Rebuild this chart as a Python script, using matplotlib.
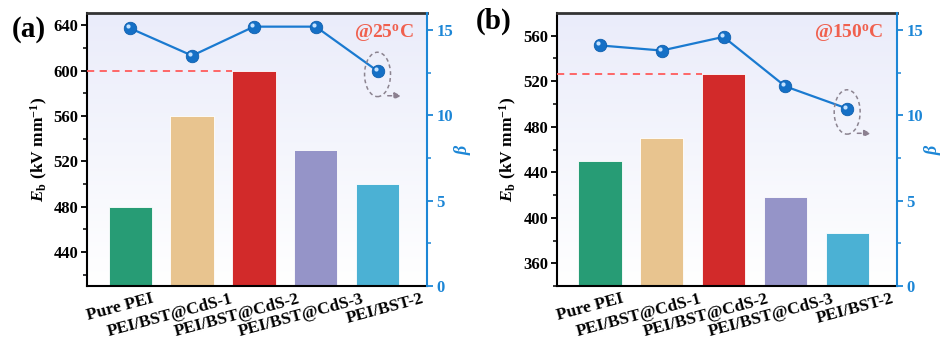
import numpy as np
import matplotlib
matplotlib.use('Agg')
import matplotlib.pyplot as plt
from matplotlib.patches import Ellipse
from matplotlib.colors import LinearSegmentedColormap
import matplotlib.transforms as mtransforms

plt.rcParams['font.family'] = ['Liberation Serif', 'DejaVu Serif']
plt.rcParams['font.weight'] = 'bold'
plt.rcParams['mathtext.fontset'] = 'custom'
plt.rcParams['mathtext.rm'] = 'Liberation Serif:bold'
plt.rcParams['mathtext.it'] = 'Liberation Serif:italic:bold'
plt.rcParams['mathtext.bf'] = 'Liberation Serif:bold'

# data
samples = ['Pure PEI', 'PEI/BST@CdS-1', 'PEI/BST@CdS-2', 'PEI/BST@CdS-3', 'PEI/BST-2']
eb_25 = [480, 560, 600, 530, 500]
beta_25 = [15.1, 13.5, 15.2, 15.2, 12.6]
eb_150 = [450, 470, 526, 418, 387]
beta_150 = [14.1, 13.8, 14.6, 11.7, 10.4]

bar_colors = ['#279c75', '#e8c48f', '#d22a2a', '#9594c8', '#4bb1d4']
blue = '#1c86d6'
line_blue = '#1a7ad0'

fig = plt.figure(figsize=(9.43, 3.42), dpi=100)
ax_a = fig.add_axes([0.0923, 0.1637, 0.3605, 0.7983])
ax_b = fig.add_axes([0.5903, 0.1637, 0.3605, 0.7983])

grad_cmap = LinearSegmentedColormap.from_list('bg', ['#ffffff', '#eaecfa'])
label_dx = [21, 38, 43, 46, 44]  # px shift of rotated tick labels


def panel(ax, eb, beta, ylim, yticks, letter, letter_xy, temp):
    x = np.arange(len(samples))
    grad = np.linspace(0, 1, 256).reshape(-1, 1)
    ax.imshow(grad, cmap=grad_cmap, origin='lower', aspect='auto',
              extent=[0, 1, 0, 1], transform=ax.transAxes, zorder=0)
    ax.bar(x, eb, width=0.7, color=bar_colors, edgecolor='white',
           linewidth=0.6, zorder=2)
    ax.set_xlim(-0.7, 4.8)
    ax.set_ylim(*ylim)
    ax.set_yticks(yticks)
    ax.set_yticks(np.arange(yticks[0] - 20, ylim[1], 40), minor=True)
    ax.hlines(eb[2], -0.7, 2 - 0.35, colors='#ff5c5c', linestyles=(0, (4, 3)),
              linewidth=1.3, zorder=3)
    ax.set_xticks(x)
    ax.set_xticklabels([])
    base = mtransforms.blended_transform_factory(ax.transData, ax.transAxes)
    for i, name in enumerate(samples):
        tr = base + mtransforms.ScaledTranslation(label_dx[i] / 100, -5 / 100,
                                                  fig.dpi_scale_trans)
        ax.text(i, 0, name, transform=tr, rotation=15, ha='right', va='top',
                rotation_mode='anchor', fontsize=12.5, fontweight='bold')
    ax.tick_params(axis='x', direction='in', length=5, width=1.3)
    ax.tick_params(axis='y', which='major', direction='out', length=4, width=1.3,
                   labelsize=12, pad=2)
    ax.tick_params(axis='y', which='minor', direction='out', length=3, width=1.1)
    ax.set_ylabel(r'$\mathit{E}_\mathrm{b}$ (kV mm$^{\mathrm{-1}}$)', fontsize=12.5,
                  fontweight='bold', labelpad=3)
    for s in ['left', 'bottom']:
        ax.spines[s].set_linewidth(1.5)
    ax.spines['top'].set_linewidth(2)
    ax.spines['top'].set_color('#333333')
    ax.spines['right'].set_visible(False)

    ax2 = ax.twinx()
    ax2.patch.set_visible(False)
    ax2.set_ylim(0, 16)
    ax2.set_yticks([0, 5, 10, 15])
    ax2.set_yticks([2.5, 7.5, 12.5], minor=True)
    for s in ['left', 'top', 'bottom']:
        ax2.spines[s].set_visible(False)
    ax2.spines['right'].set_color(blue)
    ax2.spines['right'].set_linewidth(1.5)
    ax2.tick_params(axis='y', which='major', direction='out', length=4, width=1.3,
                    colors=blue, labelsize=12, pad=3)
    ax2.tick_params(axis='y', which='minor', direction='out', length=3, width=1.1,
                    colors=blue)
    ax2.set_ylabel(r'$\mathit{\beta}$', color=blue, fontsize=13)
    ax2.yaxis.set_label_coords(1.075, 0.5)
    ax2.plot(x, beta, color=line_blue, linewidth=1.6, zorder=3)
    ax2.plot(x, beta, 'o', color='#1570c6', markersize=9, markeredgecolor='#0f5fae',
             markeredgewidth=0.6, zorder=4)
    hl = mtransforms.offset_copy(ax2.transData, fig=fig, x=-2, y=2, units='dots')
    ax2.plot(x, beta, 'o', color='#c4e2ff', markersize=3, markeredgewidth=0,
             transform=hl, zorder=5)

    ecy = beta[-1] - 0.2
    ax2.add_patch(Ellipse((4, ecy), 0.42, 2.6, fill=False, edgecolor='#8c8490',
                          linestyle=(0, (2.5, 2)), linewidth=1.1, zorder=3))
    ax2.annotate('', xy=(4.43, ecy - 1.25), xytext=(4.12, ecy - 1.25),
                 arrowprops=dict(arrowstyle='-|>', color='#8c8090', lw=1.1,
                                 linestyle=(0, (2.5, 2)), mutation_scale=10))

    ax.text(0.96, 0.925, temp, transform=ax.transAxes, ha='right', va='center',
            color='#f0604e', fontsize=14, fontweight='bold', zorder=6)
    ax.text(letter_xy[0], letter_xy[1], letter, transform=ax.transAxes,
            ha='center', va='center', fontsize=21, fontweight='bold')


panel(ax_a, eb_25, beta_25, (410, 651), [440, 480, 520, 560, 600, 640], '(a)',
      (-0.17, 0.94), r'@25$^{\mathrm{o}}$C')
panel(ax_b, eb_150, beta_150, (340, 580), [360, 400, 440, 480, 520, 560], '(b)',
      (-0.186, 0.968), r'@150$^{\mathrm{o}}$C')

fig.savefig('out.png', dpi=100)
